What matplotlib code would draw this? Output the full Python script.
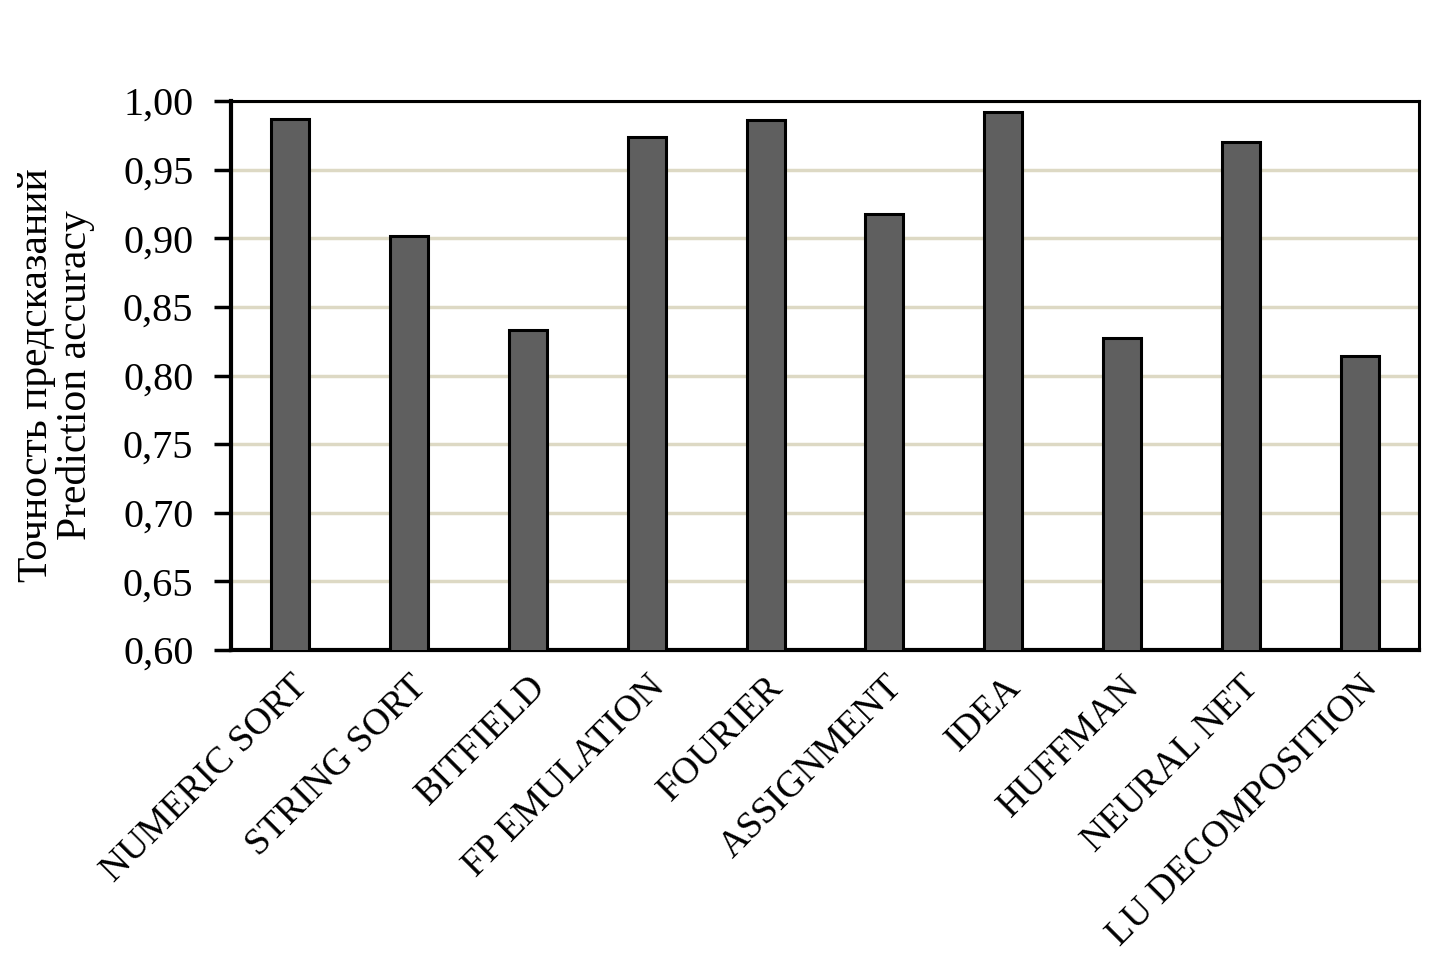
import numpy as np
import matplotlib
matplotlib.use('Agg')
import matplotlib.pyplot as plt
from matplotlib.ticker import FuncFormatter

plt.rcParams['font.family'] = ['Liberation Serif', 'DejaVu Serif']

# data
benchmarks = ['NUMERIC SORT', 'STRING SORT', 'BITFIELD', 'FP EMULATION', 'FOURIER',
              'ASSIGNMENT', 'IDEA', 'HUFFMAN', 'NEURAL NET', 'LU DECOMPOSITION']
accuracy = [0.987, 0.902, 0.833, 0.974, 0.986, 0.918, 0.992, 0.827, 0.970, 0.814]
y_ticks = [0.60, 0.65, 0.70, 0.75, 0.80, 0.85, 0.90, 0.95, 1.00]

fig = plt.figure(figsize=(14.45, 9.71), dpi=100)
ax = fig.add_axes([231 / 1445, 1 - 650 / 971, (1419 - 231) / 1445, (650 - 101) / 971])

x = np.arange(len(benchmarks))
ax.bar(x, accuracy, width=0.32, color='#5f5f5f', edgecolor='black', linewidth=2.2, zorder=3)

ax.set_xlim(-0.5, len(benchmarks) - 0.5)
ax.set_ylim(0.60, 1.00)
ax.set_yticks(y_ticks)
ax.yaxis.set_major_formatter(FuncFormatter(lambda v, pos: ('%.2f' % v).replace('.', ',')))
ax.yaxis.grid(True, color='#ddd9c4', linewidth=2.5, zorder=0)
ax.set_axisbelow(True)

ax.set_xticks(x)
ax.set_xticklabels(benchmarks, rotation=45, ha='right', rotation_mode='anchor', fontsize=27)
ax.tick_params(axis='x', length=0, pad=14)
ax.tick_params(axis='y', direction='out', length=12, width=2.5, labelsize=29, pad=15)

for side in ['left', 'bottom']:
    ax.spines[side].set_linewidth(3)
for side in ['top', 'right']:
    ax.spines[side].set_linewidth(2.2)

ax.set_ylabel('Точность предсказаний\nPrediction accuracy', fontsize=30, linespacing=1.0, labelpad=20)

fig.savefig('out.png', dpi=100)
